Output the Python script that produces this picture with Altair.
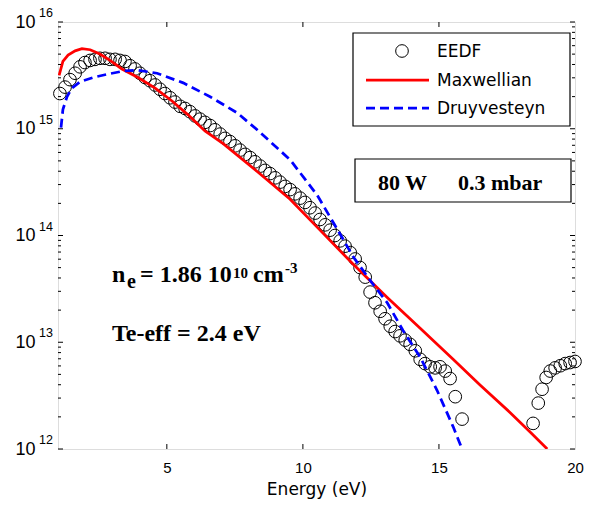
import altair as alt
import pandas as pd

# ---------------- data ----------------
# EEDF (circles): energy in eV, log10 of f
E_eedf = [1.07, 1.26, 1.44, 1.63, 1.81, 1.99, 2.18, 2.36, 2.54, 2.73,
          2.91, 3.10, 3.28, 3.46, 3.65, 3.83, 4.01, 4.20, 4.38, 4.57,
          4.75, 4.93, 5.12, 5.30, 5.49, 5.67, 5.85, 6.04, 6.22, 6.40,
          6.59, 6.77, 6.96, 7.14, 7.32, 7.51, 7.69, 7.88, 8.06, 8.24,
          8.43, 8.61, 8.79, 8.98, 9.16, 9.35, 9.53, 9.71, 9.90, 10.08,
          10.26, 10.45, 10.63, 10.82, 11.00, 11.18, 11.37, 11.55, 11.74, 11.92,
          12.10, 12.29, 12.47, 12.65, 12.84, 13.02, 13.21, 13.39, 13.57, 13.76,
          13.94, 14.13, 14.31, 14.49, 14.68, 14.86, 15.04, 15.23, 15.41, 15.60,
          15.85,
          18.46, 18.65, 18.79, 18.94, 19.09, 19.27, 19.46, 19.64, 19.82, 20.00]
logf_eedf = [15.33, 15.39, 15.46, 15.52, 15.58, 15.62, 15.64, 15.65, 15.66, 15.66,
             15.65, 15.65, 15.64, 15.63, 15.59, 15.56, 15.52, 15.48, 15.45, 15.41,
             15.37, 15.33, 15.29, 15.25, 15.21, 15.19, 15.16, 15.12, 15.09, 15.06,
             15.03, 14.99, 14.95, 14.91, 14.88, 14.84, 14.80, 14.76, 14.73, 14.69,
             14.65, 14.61, 14.58, 14.54, 14.50, 14.46, 14.43, 14.39, 14.35, 14.31,
             14.26, 14.21, 14.15, 14.10, 14.05, 14.00, 13.95, 13.90, 13.84, 13.78,
             13.70, 13.61, 13.47, 13.37, 13.29, 13.22, 13.15, 13.10, 13.06, 13.02,
             12.98, 12.92, 12.84, 12.80, 12.77, 12.76, 12.77, 12.73, 12.66, 12.49,
             12.28,
             12.24, 12.43, 12.56, 12.67, 12.73, 12.76, 12.78, 12.80, 12.81, 12.82]

# Maxwellian fit
E_max = [1.04, 1.18, 1.37, 1.63, 1.88, 2.18, 2.54, 2.91, 3.35, 3.94, 4.57, 5.19, 5.78,
         6.40, 7.07, 8.32, 9.53, 10.63, 11.85, 13.10, 14.31, 15.52, 16.51, 17.62, 18.35, 18.98]
logf_max = [15.50, 15.63, 15.69, 15.73, 15.75, 15.74, 15.70, 15.64, 15.56, 15.48, 15.38, 15.26, 15.13,
            14.98, 14.86, 14.60, 14.34, 14.05, 13.73, 13.42, 13.13, 12.84, 12.60, 12.34, 12.16, 12.00]

# Druyvesteyn fit
E_dru = [1.11, 1.18, 1.33, 1.51, 1.81, 2.29, 2.80, 3.39, 3.90, 4.64, 5.60, 6.59, 7.58,
         8.32, 9.53, 10.52, 11.26, 11.85, 12.47, 13.10, 13.68, 14.31, 14.93, 15.52, 15.85]
logf_dru = [15.01, 15.18, 15.30, 15.38, 15.44, 15.48, 15.51, 15.54, 15.55, 15.52, 15.43, 15.30, 15.15,
            14.99, 14.71, 14.38, 14.06, 13.80, 13.58, 13.37, 13.11, 12.86, 12.55, 12.21, 12.00]

# axis ticks
x_ticks = [5, 10, 15, 20]
y_major = [1e12, 1e13, 1e14, 1e15, 1e16]
y_exponents = ["12", "13", "14", "15", "16"]
y_minor = [m * 10.0 ** k for k in range(12, 16) for m in range(2, 10)]

legend_labels = ["EEDF", "Maxwellian", "Druyvesteyn"]

# ---------------- build chart ----------------
W, H = 517, 427
SANS = "Liberation Sans"
SERIF = "Liberation Serif"

eedf = pd.DataFrame({"E": E_eedf, "f": [10 ** v for v in logf_eedf]})
maxw = pd.DataFrame({"E": E_max, "f": [10 ** v for v in logf_max]})
dru = pd.DataFrame({"E": E_dru, "f": [10 ** v for v in logf_dru]})
one = pd.DataFrame({"k": [0]})

xs = alt.Scale(domain=[1, 20], nice=False, zero=False)
ys = alt.Scale(type="log", domain=[1e12, 1e16], nice=False)

x_axis = alt.Axis(
    values=x_ticks, title="Energy (eV)", ticks=False, tickSize=0, domain=False, grid=False,
    labelFont=SANS, labelFontSize=15, labelPadding=11, labelFlush=False, labelColor="black",
    titleFont="DejaVu Sans", titleFontSize=17, titleFontWeight="normal", titleColor="black",
    titlePadding=6)
y_axis = alt.Axis(
    values=y_major, labelExpr="'10'", title="", ticks=False, tickSize=0, domain=False,
    grid=False, labelFont=SANS, labelFontSize=18, labelPadding=23, labelFlush=False,
    labelAlign="right", labelBaseline="middle", labelColor="black", labelOverlap=False)


def X(field):
    return alt.X(field, scale=xs, axis=x_axis, title="Energy (eV)")


def Y(field):
    return alt.Y(field, scale=ys, axis=y_axis, title="")


circles = alt.Chart(eedf).mark_point(
    shape="circle", filled=False, size=160, color="black", strokeWidth=1, opacity=1
).encode(x=X("E:Q"), y=Y("f:Q"))

red = alt.Chart(maxw).mark_line(color="#ff0000", strokeWidth=2.75, clip=True).encode(
    x=X("E:Q"), y=Y("f:Q"))

blue = alt.Chart(dru).mark_line(color="#0000ff", strokeWidth=2.75, strokeDash=[9, 5], clip=True).encode(
    x=X("E:Q"), y=Y("f:Q"))

exps = alt.Chart(pd.DataFrame({"v": y_major, "t": y_exponents})).mark_text(
    align="left", baseline="alphabetic", font=SANS, fontSize=12.5, dy=-5, color="black"
).encode(y=Y("v:Q"), x=alt.value(-19), text="t:N")

# inward ticks on all four sides
ymaj_df = pd.DataFrame({"v": y_major})
ymin_df = pd.DataFrame({"v": y_minor})
xmaj_df = pd.DataFrame({"v": x_ticks[:-1]})
tick_layers = []
for df, ln in [(ymaj_df, 5), (ymin_df, 3)]:
    tick_layers.append(alt.Chart(df).mark_rule(color="black", strokeWidth=1).encode(
        y=Y("v:Q"), x=alt.value(0), x2=alt.value(ln)))
    tick_layers.append(alt.Chart(df).mark_rule(color="black", strokeWidth=1).encode(
        y=Y("v:Q"), x=alt.value(W - ln), x2=alt.value(W)))
tick_layers.append(alt.Chart(xmaj_df).mark_rule(color="black", strokeWidth=1).encode(
    x=X("v:Q"), y=alt.value(H), y2=alt.value(H - 5)))
tick_layers.append(alt.Chart(xmaj_df).mark_rule(color="black", strokeWidth=1).encode(
    x=X("v:Q"), y=alt.value(0), y2=alt.value(5)))


def txt(s, x, y, size, font=SERIF, weight="bold"):
    return alt.Chart(one).mark_text(
        text=s, align="left", baseline="alphabetic", font=font, fontSize=size,
        fontWeight=weight, color="black"
    ).encode(x=alt.value(x), y=alt.value(y))


def box(x1, x2, y1, y2):
    return alt.Chart(one).mark_rect(fill="white", stroke="black", strokeWidth=1.2).encode(
        x=alt.value(x1), x2=alt.value(x2), y=alt.value(y1), y2=alt.value(y2))


legend = [
    box(295, 512, 11, 104),
    alt.Chart(one).mark_point(shape="circle", filled=False, size=160, color="black",
                              strokeWidth=1, opacity=1).encode(x=alt.value(344), y=alt.value(29)),
    alt.Chart(one).mark_rule(color="#ff0000", strokeWidth=2.75).encode(
        x=alt.value(308), x2=alt.value(371), y=alt.value(58)),
    alt.Chart(one).mark_rule(color="#0000ff", strokeWidth=2.75, strokeDash=[9, 5]).encode(
        x=alt.value(308), x2=alt.value(371), y=alt.value(86)),
    txt(legend_labels[0], 379, 35, 17, font="DejaVu Sans", weight="normal"),
    txt(legend_labels[1], 379, 64, 17, font="DejaVu Sans", weight="normal"),
    txt(legend_labels[2], 379, 92, 17, font="DejaVu Sans", weight="normal"),
]

annot = [
    box(297, 513, 137, 180),
    txt("80 W", 320, 168, 22),
    txt("0.3 mbar", 400, 168, 22),
    txt("n", 54, 260, 24),
    txt("e", 69, 266, 20),
    txt("= 1.86 10", 82, 260, 24),
    txt("10", 175, 256, 15),
    txt("cm", 195, 260, 24),
    txt("-3", 227, 251, 15),
    txt("Te-eff = 2.4 eV", 54, 319, 24),
]

chart = alt.layer(
    circles, red, blue, exps, *tick_layers, *legend, *annot
).properties(
    width=W, height=H,
    autosize=alt.AutoSizeParams(type="none"),
    padding={"left": 50, "top": 14, "right": 9, "bottom": 52},
).configure_view(
    stroke="black", strokeWidth=1.5
).configure(background="white")

chart.save("out.html", embed_options={"renderer": "svg", "actions": False})
